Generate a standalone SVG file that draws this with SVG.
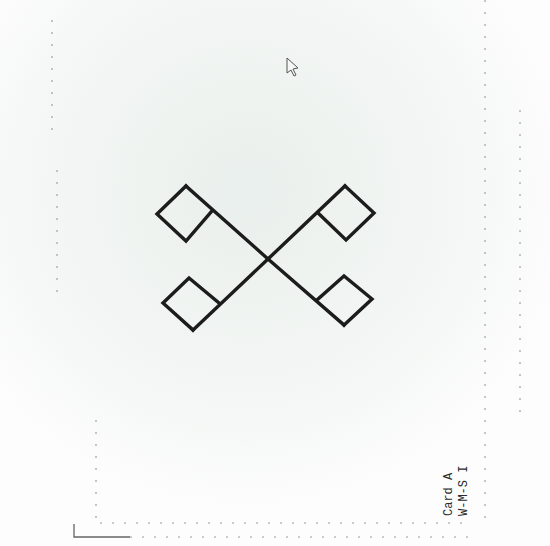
<svg xmlns="http://www.w3.org/2000/svg" width="550" height="546" viewBox="0 0 550 546">
  <defs>
    <radialGradient id="bg" cx="0.45" cy="0.35" r="0.6">
      <stop offset="0" stop-color="#e9efec"/>
      <stop offset="0.6" stop-color="#f3f6f4"/>
      <stop offset="1" stop-color="#fdfdfd"/>
    </radialGradient>
    <style>
      .ink { fill: none; stroke: #1c1c1c; stroke-width: 3.4; stroke-linejoin: miter; stroke-linecap: square; }
      .frame { fill: none; stroke: #9a9a9a; stroke-width: 1.1; stroke-dasharray: 2 10; }
      .label { font-family: "Liberation Mono", "DejaVu Sans Mono", monospace; font-size: 12px; fill: #2a2a2a; }
    </style>
  </defs>

  <rect x="0" y="0" width="550" height="546" fill="url(#bg)"/>

  <g id="frame">
    <path class="frame" d="M52 20 V140 M57 170 V300 M96 420 V520"/>
    <path class="frame" d="M485 0 V520 M520 110 V420"/>
    <path class="frame" d="M100 523 H470"/>
    <path fill="none" stroke="#666" stroke-width="1.3" d="M74 524 V537 H130"/>
    <path class="frame" d="M130 537 H470"/>
  </g>

  <g id="cursor">
    <path d="M287 58 L287 73 L291 70 L294 76 L296 75 L293 69 L298 68 Z" fill="#f4f6f5" stroke="#555" stroke-width="1"/>
  </g>

  <g id="connectors">
    <path class="ink" d="M186 186 L268 259 L344 325"/>
    <path class="ink" d="M345 186 L268 259 L193 330"/>
  </g>

  <g id="diamond-top-left">
    <path class="ink" d="M186 186 L157 214 L186 241 L212 211"/>
  </g>
  <g id="diamond-top-right">
    <path class="ink" d="M345 186 L374 213 L346 240 L318 213"/>
  </g>
  <g id="diamond-bottom-left">
    <path class="ink" d="M219 303 L189 278 L163 303 L193 330"/>
  </g>
  <g id="diamond-bottom-right">
    <path class="ink" d="M318 299 L344 276 L372 299 L344 325"/>
  </g>

  <g id="card-label">
    <text class="label" transform="translate(452 516) rotate(-90)">Card A</text>
    <text class="label" transform="translate(467 516) rotate(-90)">W-M-S I</text>
  </g>
</svg>
